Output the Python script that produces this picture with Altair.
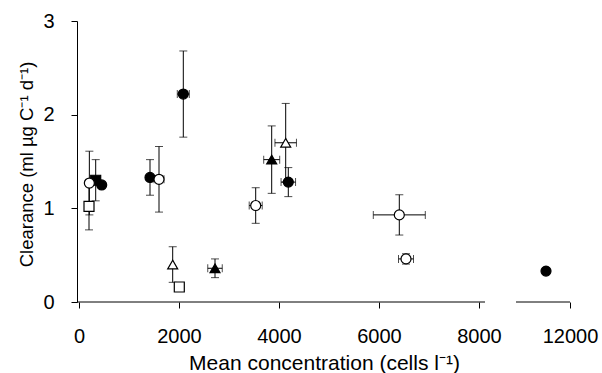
import altair as alt
import pandas as pd

# ---- data ----
conc = [334, 454, 1420, 2086, 2720, 3854, 4186, 11520,
        207, 200, 1600, 1874, 2006, 3534, 4134, 6406, 6540]
clearance = [1.30, 1.25, 1.33, 2.22, 0.36, 1.52, 1.28, 0.33,
             1.27, 1.02, 1.31, 0.40, 0.16, 1.03, 1.70, 0.93, 0.46]
clear_err = [0.22, 0.0, 0.19, 0.46, 0.10, 0.36, 0.155, 0.0,
             0.34, 0.25, 0.35, 0.19, 0.0, 0.19, 0.42, 0.215, 0.055]
conc_err = [0, 0, 0, 120, 145, 160, 145, 0,
            0, 0, 100, 0, 0, 130, 215, 520, 150]
shape = ["square", "circle", "circle", "circle", "triangle-up", "triangle-up", "circle", "circle",
         "circle", "square", "circle", "triangle-up", "square", "circle", "triangle-up", "circle", "circle"]
style = ["filled"] * 8 + ["open"] * 9

x_ticks = [0, 2000, 4000, 6000, 8000, 12000]
y_ticks = [0, 1, 2, 3]
# broken x axis: two segments
seg_start = [-40, 10920]
seg_end = [8120, 12000]

df = pd.DataFrame({
    "x": conc, "y": clearance, "yerr": clear_err, "xerr": conc_err,
    "shape": shape, "style": style,
})
df["ylo"] = df["y"] - df["yerr"]
df["yhi"] = df["y"] + df["yerr"]
df["xlo"] = df["x"] - df["xerr"]
df["xhi"] = df["x"] + df["xerr"]

ebar_y = df[df["yerr"] > 0]
ebar_x = df[df["xerr"] > 0]
segs = pd.DataFrame({"s": seg_start, "e": seg_end, "zero": [0, 0]})

FONT = "Liberation Sans"
YTITLE = "Clearance (ml µg C⁻¹ d⁻¹)"
XTITLE = "Mean concentration (cells l⁻¹)"

xscale = alt.Scale(domain=[-40, 8120, 10920, 12000], range=[0, 408, 439, 493], nice=False, zero=False)
yscale = alt.Scale(domain=[0, 3], nice=False)
xaxis = alt.Axis(values=x_ticks, format="d", labelFlush=False, grid=False, domain=False, title=XTITLE,
                 labelBaseline="alphabetic", labelPadding=34,
                 titleBaseline="alphabetic", titleY=67, titleX=247, titleFontSize=21)
yaxis = alt.Axis(values=y_ticks, format="d", grid=False, title=YTITLE, labelPadding=17,
                 titleX=-51, titleY=143, titleBaseline="middle", titleAngle=270, titleFontSize=18.5)

axis_lines = alt.Chart(segs).mark_rule(color="black", strokeWidth=1).encode(
    x=alt.X("s:Q", scale=xscale, axis=xaxis), x2="e:Q",
    y=alt.Y("zero:Q", scale=yscale, axis=yaxis))

vbar = alt.Chart(ebar_y).mark_rule(color="black", strokeWidth=1).encode(
    x="x:Q", y="ylo:Q", y2="yhi:Q")
vcap_lo = alt.Chart(ebar_y).mark_tick(color="black", orient="horizontal", size=8, thickness=1).encode(
    x="x:Q", y="ylo:Q")
vcap_hi = alt.Chart(ebar_y).mark_tick(color="black", orient="horizontal", size=8, thickness=1).encode(
    x="x:Q", y="yhi:Q")
hbar = alt.Chart(ebar_x).mark_rule(color="black", strokeWidth=1).encode(
    x="xlo:Q", x2="xhi:Q", y="y:Q")
hcap_lo = alt.Chart(ebar_x).mark_tick(color="black", orient="vertical", size=8, thickness=1).encode(
    x="xlo:Q", y="y:Q")
hcap_hi = alt.Chart(ebar_x).mark_tick(color="black", orient="vertical", size=8, thickness=1).encode(
    x="xhi:Q", y="y:Q")
pts = alt.Chart(df).mark_point(filled=True, stroke="black", strokeWidth=1.2, size=100, opacity=1).encode(
    x="x:Q", y="y:Q",
    shape=alt.Shape("shape:N", scale=alt.Scale(domain=["circle", "square", "triangle-up"],
                                              range=["circle", "square", "triangle-up"]), legend=None),
    fill=alt.Fill("style:N", scale=alt.Scale(domain=["filled", "open"], range=["black", "white"]),
                  legend=None),
)

chart = alt.layer(axis_lines, vbar, vcap_lo, vcap_hi, hbar, hcap_lo, hcap_hi, pts).properties(
    width=493, height=281,
    autosize=alt.AutoSizeParams(type="none"),
    padding={"left": 77, "top": 21, "right": 32, "bottom": 71},
).configure_view(stroke=None).configure_axis(
    labelFont=FONT, titleFont=FONT, labelFontSize=20,
    labelColor="black", titleColor="black", titleFontWeight="normal",
    domainColor="black", tickColor="black", tickSize=6, domainWidth=1, tickWidth=1,
)

chart.save("out.html", embed_options={"renderer": "svg", "actions": False})
